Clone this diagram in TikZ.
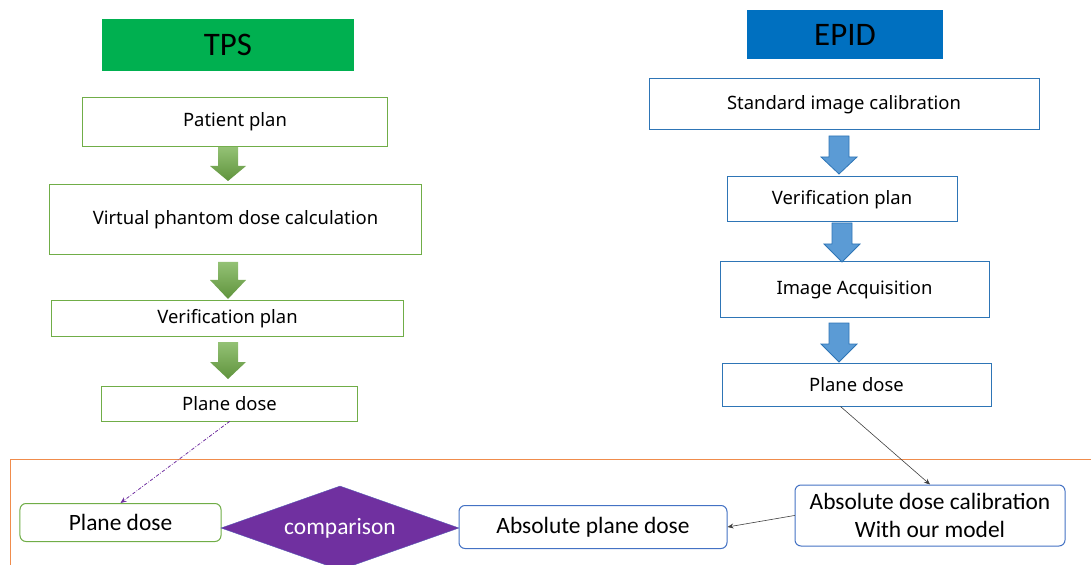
\documentclass[tikz,border=0pt]{standalone}
\usepackage{fontspec}
\setmainfont{Noto Sans}
\newfontfamily\calib{Carlito}
\usepackage{tikz}
\usetikzlibrary{arrows.meta,shapes.geometric}
\usepackage{xcolor}

\definecolor{tpsgreen}{HTML}{00B050}
\definecolor{epidblue}{HTML}{0070C0}
\definecolor{boxgreen}{HTML}{70AD47}
\definecolor{boxblue}{HTML}{2E75B6}
\definecolor{softblue}{HTML}{4472C4}
\definecolor{arrowblue}{HTML}{5B9BD5}
\definecolor{cmppurple}{HTML}{7030A0}
\definecolor{frameorange}{HTML}{F08C4C}

% block arrow pointing down: {cx}{top}{head}{tip}
\newcommand{\downblock}[5][]{%
  \draw[#1] ({#2-10},#3) -- ({#2+10},#3) -- ({#2+10},#4) -- ({#2+18},#4)
    -- (#2,#5) -- ({#2-18},#4) -- ({#2-10},#4) -- cycle;}

\begin{document}
\begin{tikzpicture}[x=1bp,y=-1bp,>={Stealth[length=6bp,width=5bp]},line cap=round,
  head/.style={inner sep=0,text=black,font=\calib\fontsize{33}{36}\selectfont},
  tpsbox/.style={draw=boxgreen,line width=1bp,inner sep=0,font=\fontsize{18.5}{22}\selectfont},
  epidbox/.style={draw=boxblue,line width=1bp,inner sep=0,font=\fontsize{18.5}{22}\selectfont},
  roundbox/.style={rounded corners=6bp,line width=1bp,fill=white,inner sep=0,align=center,font=\calib\fontsize{23.5}{28}\selectfont},
  greenarrow/.style={draw=none,top color=boxgreen!75!white,bottom color=boxgreen!85!black},
  bluearrow/.style={fill=arrowblue,draw=boxblue,line width=0.8bp}]
\useasboundingbox (0,0) rectangle (1091,565);

% column headers
\node[head,fill=tpsgreen,minimum width=252bp,minimum height=52bp] (tps) at (228,45) {TPS};
\node[head,fill=epidblue,minimum width=196bp,minimum height=49bp] (epid) at (845,34.5) {EPID};

% TPS side
\node[tpsbox,minimum width=304bp,minimum height=49bp] (pplan) at (235,122) {Patient plan};
\node[tpsbox,minimum width=372bp,minimum height=70bp] (vphantom) at (235.5,219.5) {Virtual phantom dose calculation};
\node[tpsbox,minimum width=351bp,minimum height=35bp] (tpsverif) at (227.5,318.5) {Verification plan};
\node[tpsbox,minimum width=255bp,minimum height=35bp] (tpsdose) at (229.5,403.5) {Plane dose};
\downblock[greenarrow]{228}{147}{166}{181}
\downblock[greenarrow]{228}{262}{280}{299}
\downblock[greenarrow]{228}{342}{362}{379}

% EPID side
\node[epidbox,minimum width=390bp,minimum height=51bp] (stdcal) at (844,104.5) {Standard image calibration};
\node[epidbox,minimum width=230bp,minimum height=45bp] (epidverif) at (842,199.5) {Verification plan};
\node[epidbox,minimum width=269bp,minimum height=55bp] (acq) at (854.5,289.5) {Image Acquisition};
\node[epidbox,minimum width=269bp,minimum height=43bp] (epiddose) at (856.5,384.5) {Plane dose};
\downblock[bluearrow]{839}{136}{157}{174}
\downblock[bluearrow]{842}{223}{244}{262}
\downblock[bluearrow]{839}{323}{344}{362}

% comparison area
\draw[frameorange,line width=1bp] (10,565) -- (10,459) -- (1091,459);
\node[roundbox,draw=boxgreen,minimum width=201bp,minimum height=38bp] (cmpdose) at (120.5,522.5) {Plane dose};
\node[diamond,aspect=2.83,fill=cmppurple,draw=softblue!60!cmppurple,inner sep=0,minimum width=238bp,minimum height=84bp,
  text=white,font=\calib\fontsize{23.5}{26}\selectfont] (cmp) at (340,528) {comparison};
\node[roundbox,draw=softblue,minimum width=268bp,minimum height=43bp] (absdose) at (593,527) {Absolute plane dose};
\node[roundbox,draw=softblue,minimum width=270bp,minimum height=61bp] (calib) at (930,515.5) {Absolute dose calibration\\With our model};

\draw[->,cmppurple,dash dot,line width=0.8bp] (tpsdose.south) -- (cmpdose.north);
\draw[->,black!75,line width=0.6bp] ([xshift=-16bp]epiddose.south) -- (calib.north);
\draw[->,black!75,line width=0.6bp] (calib.west) -- (absdose.east);
\end{tikzpicture}
\end{document}
